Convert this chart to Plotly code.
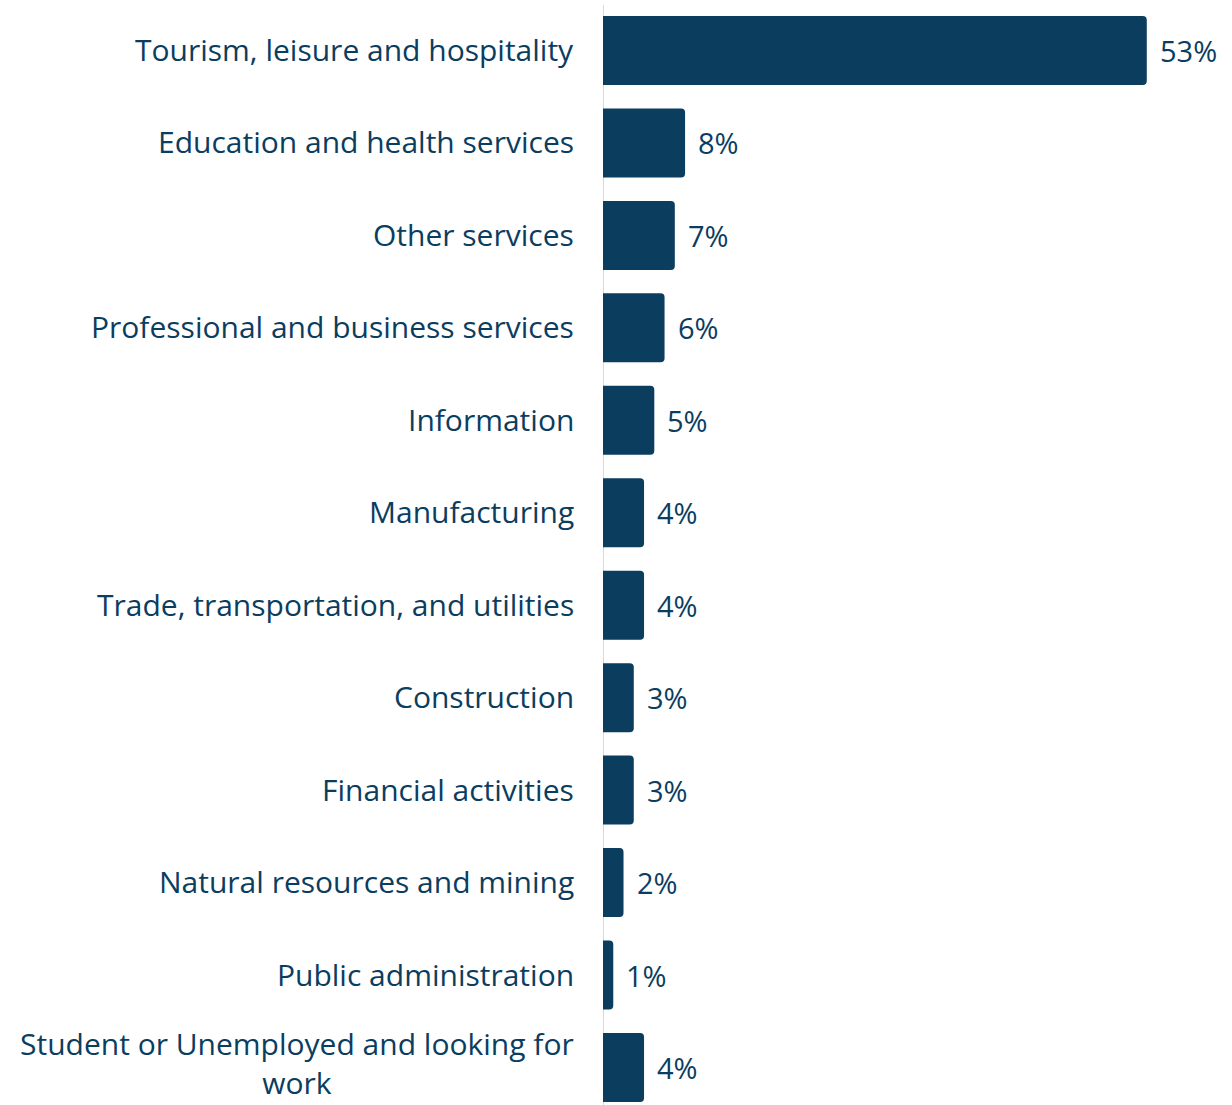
import plotly.graph_objects as go

# Share of respondents by industry of employment
industries = [
    "Tourism, leisure and hospitality",
    "Education and health services",
    "Other services",
    "Professional and business services",
    "Information",
    "Manufacturing",
    "Trade, transportation, and utilities",
    "Construction",
    "Financial activities",
    "Natural resources and mining",
    "Public administration",
    "Student or Unemployed and looking for<br>work",
]
shares = [53, 8, 7, 6, 5, 4, 4, 3, 3, 2, 1, 4]
value_labels = [f"{v}%" for v in shares]

NAVY = "#0b3d5f"
FONT = "Open Sans"
W, H = 1232, 1105
LEFT = 603
PX_PER_PCT = 10.26
ROW = 92.45
FIRST_CENTER = 50.5

fig = go.Figure(
    go.Bar(
        x=shares,
        y=industries,
        orientation="h",
        marker=dict(color=NAVY, line=dict(width=0)),
        hoverinfo="skip",
    )
)

# category labels (right aligned, multi-line centred)
for name in industries:
    fig.add_annotation(
        x=0, xref="x", y=name, yref="y",
        text=name, showarrow=False,
        xanchor="right", yanchor="middle", align="center",
        xshift=-27, yshift=4 if "<br>" in name else 1,
        font=dict(family=FONT, size=30, color=NAVY),
    )

# value labels at the end of each bar
for name, v, lab in zip(industries, shares, value_labels):
    fig.add_annotation(
        x=v, xref="x", y=name, yref="y",
        text=lab, showarrow=False,
        xanchor="left", yanchor="middle",
        xshift=11,
        font=dict(family=FONT, size=29, color=NAVY),
    )

# thin grey baseline on the left of the bars
fig.add_shape(
    type="line", xref="x", yref="paper",
    x0=0, x1=0, y0=0, y1=1 - 5 / H,
    line=dict(color="#d9d9d9", width=2),
    layer="below",
)

fig.update_layout(
    width=W, height=H,
    margin=dict(l=LEFT, r=0, t=0, b=0),
    paper_bgcolor="white", plot_bgcolor="white",
    bargap=0.254,
    barcornerradius=4,
    showlegend=False,
    xaxis=dict(
        range=[0, (W - LEFT) / PX_PER_PCT],
        visible=False, fixedrange=True,
    ),
    yaxis=dict(
        type="category",
        range=[(H - FIRST_CENTER) / ROW, -FIRST_CENTER / ROW],
        showticklabels=False, ticks="",
        showgrid=False, zeroline=False, showline=False,
        fixedrange=True,
    ),
)

fig.write_html("out.html")
